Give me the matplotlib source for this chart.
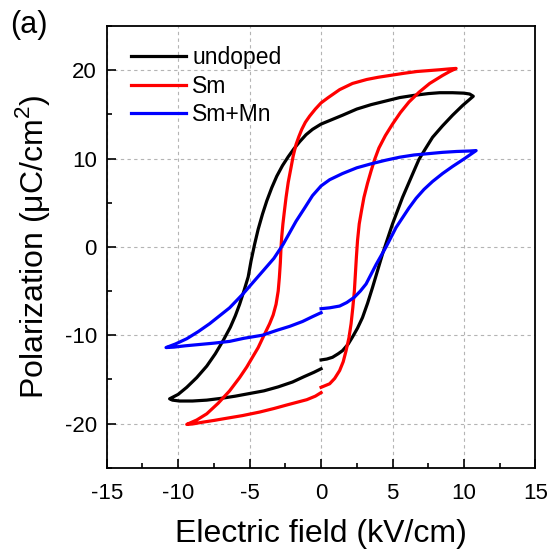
import numpy as np
import matplotlib
matplotlib.use("Agg")
import matplotlib.pyplot as plt
from matplotlib.ticker import MultipleLocator

plt.rcParams['font.family'] = ['Liberation Sans', 'DejaVu Sans']
plt.rcParams['mathtext.fontset'] = 'custom'
plt.rcParams['mathtext.rm'] = 'Liberation Sans'
plt.rcParams['axes.unicode_minus'] = False

# undoped loop: 0 -> +Emax -> -Emax -> 0
undoped_E = [0, 0.4, 0.8, 1.2, 1.5, 1.9, 2.2, 2.55, 2.9, 3.25, 3.6, 3.95, 4.3, 4.65, 5.0, 5.35,
             5.7, 6.1, 6.5, 6.85, 7.3, 7.8, 8.5, 9.2, 9.9, 10.4, 10.65,
             10.4, 10.0, 9.2, 8.3, 7.5, 6.5, 5.5, 4.5, 3.5, 2.5, 1.5, 0.6, 0, -0.6, -1.05, -1.5,
             -1.9, -2.3, -2.7, -3.1, -3.45, -3.8, -4.1, -4.4, -4.65, -4.9, -5.1, -5.4, -5.7,
             -6.0, -6.35, -6.85, -7.4, -8.0, -8.7, -9.4, -10.0, -10.6,
             -10.4, -9.9, -9.0, -8.0, -7.0, -6.0, -5.0, -4.0, -3.0, -2.0, -1.2, -0.5, 0]
undoped_P = [-12.8, -12.7, -12.5, -12.1, -11.75, -11.0, -10.2, -9.2, -8.0, -6.4, -4.6, -2.7, -0.8, 0.9, 2.6, 4.1,
             5.6, 7.1, 8.6, 9.9, 11.1, 12.4, 13.7, 14.9, 16.0, 16.7, 17.05,
             17.3, 17.4, 17.45, 17.45, 17.35, 17.15, 16.9, 16.5, 16.1, 15.6, 14.9, 14.3, 13.9, 13.3, 12.7, 11.9,
             11.1, 10.2, 9.2, 8.0, 6.7, 5.2, 3.7, 2.0, 0.3, -1.6, -3.4, -5.0, -6.5,
             -7.8, -9.1, -10.6, -12.1, -13.5, -14.8, -15.9, -16.7, -17.2,
             -17.35, -17.45, -17.45, -17.35, -17.15, -16.9, -16.6, -16.3, -15.85, -15.3, -14.7, -14.2, -13.8]

sm_E = [0, 0.3, 0.6, 0.95, 1.3, 1.55, 1.75, 1.95, 2.1, 2.22, 2.33, 2.4, 2.47, 2.55, 2.67, 2.83,
        3.0, 3.25, 3.5, 3.75, 4.05, 4.5, 5.0, 5.55, 6.15, 6.85, 7.6, 8.5, 9.0, 9.45,
        9.0, 8.3, 7.5, 6.7, 5.8, 5.0, 4.0, 3.2, 2.2, 1.3, 0.5, 0, -0.4, -0.8, -1.1, -1.35, -1.55,
        -1.75, -1.95, -2.1, -2.3, -2.45, -2.57, -2.67, -2.75, -2.8, -2.85, -2.92, -3.0, -3.15,
        -3.35, -3.6, -4.05, -4.4, -4.8, -5.2, -5.7, -6.4, -7.2, -8.0, -8.7, -9.4,
        -9.0, -8.3, -7.5, -6.6, -5.5, -4.3, -3.3, -2.4, -1.7, -1.0, -0.4, 0]
sm_P = [-15.9, -15.7, -15.5, -14.9, -14.0, -13.0, -11.75, -10.3, -8.7, -6.9, -5.0, -3.1, -1.2, 0.7, 2.6, 4.1,
        5.6, 7.2, 8.6, 9.9, 11.2, 12.6, 13.9, 15.2, 16.4, 17.5, 18.5, 19.4, 19.85, 20.2,
        20.15, 20.05, 19.95, 19.85, 19.65, 19.45, 19.2, 18.95, 18.5, 17.8, 16.9, 16.3, 15.6, 14.8, 14.1, 13.3, 12.5,
        11.6, 10.3, 9.0, 7.3, 5.6, 4.0, 2.6, 1.2, 0, -1.8, -3.5, -5.0, -6.5,
        -7.7, -8.7, -10.2, -11.4, -12.5, -13.6, -14.8, -16.3, -17.7, -18.9, -19.6, -20.1,
        -20.05, -19.85, -19.65, -19.4, -19.1, -18.7, -18.3, -17.9, -17.6, -17.3, -16.9, -16.5]

smmn_E = [0, 0.6, 1.3, 1.8, 2.33, 2.75, 3.15, 3.5, 3.85, 4.2, 4.55, 4.9, 5.25, 5.7, 6.15, 6.65,
          7.2, 7.8, 8.5, 9.2, 10.0, 10.85,
          10.4, 9.5, 8.5, 7.5, 6.5, 5.5, 4.5, 3.5, 2.5, 1.5, 0.6, 0, -0.6, -1.15, -1.75, -2.2,
          -2.65, -3.3, -4.05, -4.75, -5.45, -6.4, -7.1, -7.8, -8.6, -9.4, -10.2, -10.85,
          -10.3, -9.5, -8.5, -7.5, -6.4, -5.4, -4.1, -3.1, -2.2, -1.3, -0.6, 0]
smmn_P = [-7.0, -6.9, -6.7, -6.3, -5.7, -5.0, -4.2, -3.1, -2.0, -1.0, 0, 1.1, 2.2, 3.3, 4.4, 5.5,
          6.5, 7.4, 8.3, 9.1, 9.95, 10.9,
          10.85, 10.8, 10.7, 10.55, 10.4, 10.15, 9.8, 9.4, 8.95, 8.3, 7.6, 6.9, 5.8, 4.4, 2.9, 1.6,
          0.3, -1.3, -2.7, -4.0, -5.3, -6.9, -7.8, -8.7, -9.6, -10.4, -11.0, -11.4,
          -11.35, -11.2, -11.05, -10.9, -10.7, -10.35, -10.0, -9.45, -9.0, -8.45, -7.9, -7.45]

fig = plt.figure(figsize=(5.52, 5.56), dpi=100)
ax = fig.add_axes([0.1933, 0.1588, 0.7767, 0.7944])

ax.plot(undoped_E, undoped_P, color='black', lw=2.3, label='undoped')
ax.plot(sm_E, sm_P, color='#ff0000', lw=2.3, label='Sm')
ax.plot(smmn_E, smmn_P, color='#0000ff', lw=2.3, label='Sm+Mn')

ax.set_xlim(-15, 15)
ax.set_ylim(-25, 25)
ax.xaxis.set_major_locator(MultipleLocator(5))
ax.xaxis.set_minor_locator(MultipleLocator(2.5))
ax.yaxis.set_major_locator(MultipleLocator(10))
ax.yaxis.set_minor_locator(MultipleLocator(5))
ax.grid(True, which='major', color='#b4b4b4', ls=(0, (3, 3)), lw=0.8)
ax.tick_params(which='both', direction='in', top=False, right=False, labelsize=16, width=1.2)
ax.tick_params(which='major', length=6.5)
ax.tick_params(axis='x', which='major', pad=11)
ax.tick_params(axis='y', which='major', pad=7)
ax.tick_params(which='minor', length=3.8)
for s in ax.spines.values():
    s.set_linewidth(1.3)

ax.set_xlabel('Electric field (kV/cm)', fontsize=23, labelpad=11)
ax.set_ylabel('Polarization (μC/cm$^{2}$)', fontsize=23, labelpad=9)

ax.legend(loc='upper left', bbox_to_anchor=(0.02, 0.99), frameon=False, fontsize=16.5,
          handlelength=2.4, handletextpad=0.25, labelspacing=0.22, borderaxespad=0.3)

fig.text(0.018, 0.982, '(a)', fontsize=22, va='top', ha='left')

fig.savefig('out.png', dpi=100)
